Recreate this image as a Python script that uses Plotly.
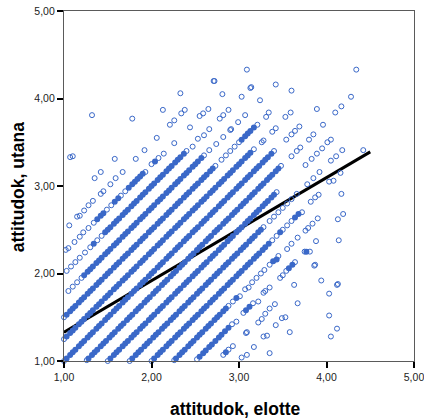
import plotly.graph_objects as go

band_p000_x = [1.00,1.03,1.07,1.10,1.13,1.17,1.20,1.23,1.27,1.30,1.33,1.37,1.40,1.43,1.47,1.50,1.53,1.57,1.60,1.63,1.67,1.70,1.73,1.77,1.80,1.83,1.87,1.90,1.93,1.97,2.00,2.03,2.07,2.10,2.13,2.17,2.20,2.23,2.27,2.30,2.33,2.37,2.40,2.43,2.47,2.50,2.53,2.57,2.60,2.63,2.67,2.70,2.73,2.77,2.80,2.83,2.87,2.90,2.93,2.97,3.00,3.03,3.07,3.10,3.13,3.17,3.20,3.23,3.27,3.30,3.33,3.37,3.40,3.54,3.60,3.64,3.69]
band_p000_y = [1.00,1.03,1.07,1.10,1.13,1.17,1.20,1.23,1.27,1.30,1.33,1.37,1.40,1.43,1.47,1.50,1.53,1.57,1.60,1.63,1.67,1.70,1.73,1.77,1.80,1.83,1.87,1.90,1.93,1.97,2.00,2.03,2.07,2.10,2.13,2.17,2.20,2.23,2.27,2.30,2.33,2.37,2.40,2.43,2.47,2.50,2.53,2.57,2.60,2.63,2.67,2.70,2.73,2.77,2.80,2.83,2.87,2.90,2.93,2.97,3.00,3.03,3.07,3.10,3.13,3.17,3.20,3.23,3.27,3.30,3.33,3.37,3.40,3.53,3.59,3.63,3.68]

band_p025_x = [1.00,1.03,1.07,1.10,1.13,1.17,1.20,1.23,1.27,1.30,1.33,1.37,1.40,1.43,1.47,1.50,1.53,1.57,1.60,1.63,1.67,1.70,1.73,1.77,1.80,1.83,1.87,1.90,1.93,1.97,2.00,2.03,2.07,2.10,2.13,2.17,2.20,2.23,2.27,2.30,2.33,2.37,2.40,2.43,2.47,2.50,2.53,2.57,2.60,2.63,2.67,2.70,2.73,2.77,2.80,2.83,2.87,2.90,2.93,2.97,3.00,3.03,3.07,3.10,3.13,3.17,3.26,3.28,3.38,3.42]
band_p025_y = [1.25,1.28,1.32,1.35,1.38,1.42,1.45,1.48,1.52,1.55,1.58,1.62,1.65,1.68,1.72,1.75,1.78,1.82,1.85,1.88,1.92,1.95,1.98,2.02,2.05,2.08,2.12,2.15,2.18,2.22,2.25,2.28,2.32,2.35,2.38,2.42,2.45,2.48,2.52,2.55,2.58,2.62,2.65,2.68,2.72,2.75,2.78,2.82,2.85,2.88,2.92,2.95,2.98,3.02,3.05,3.08,3.12,3.15,3.18,3.22,3.25,3.28,3.32,3.35,3.38,3.42,3.50,3.52,3.62,3.66]

band_p050_x = [1.00,1.03,1.07,1.10,1.13,1.17,1.20,1.23,1.27,1.30,1.33,1.37,1.40,1.43,1.47,1.50,1.53,1.57,1.60,1.63,1.67,1.70,1.73,1.77,1.80,1.83,1.87,1.90,1.93,1.97,2.00,2.03,2.07,2.10,2.13,2.17,2.20,2.23,2.27,2.30,2.33,2.37,2.40,2.43,2.47,2.50,2.53,2.57,2.60,2.63,2.67,2.70,2.73,2.80,2.85,2.90,2.95,3.00,3.03,3.07,3.10,3.13,3.17,3.21]
band_p050_y = [1.50,1.53,1.57,1.60,1.63,1.67,1.70,1.73,1.77,1.80,1.83,1.87,1.90,1.93,1.97,2.00,2.03,2.07,2.10,2.13,2.17,2.20,2.23,2.27,2.30,2.33,2.37,2.40,2.43,2.47,2.50,2.53,2.57,2.60,2.63,2.67,2.70,2.73,2.77,2.80,2.83,2.87,2.90,2.93,2.97,3.00,3.03,3.07,3.10,3.13,3.17,3.20,3.23,3.30,3.35,3.40,3.45,3.50,3.53,3.57,3.60,3.63,3.67,3.70]

band_p075_x = [1.05,1.10,1.15,1.20,1.23,1.27,1.30,1.33,1.37,1.40,1.43,1.47,1.50,1.53,1.57,1.60,1.63,1.67,1.70,1.73,1.77,1.80,1.83,1.87,1.90,1.93,1.97,2.00,2.03,2.07,2.10,2.13,2.17,2.20,2.23,2.27,2.30,2.33,2.37,2.40,2.43,2.47,2.50,2.53,2.57,2.60,2.66,2.74,2.82,2.90,2.91,2.99,3.07]
band_p075_y = [1.80,1.85,1.90,1.95,1.98,2.02,2.05,2.08,2.12,2.15,2.18,2.22,2.25,2.28,2.32,2.35,2.38,2.42,2.45,2.48,2.52,2.55,2.58,2.62,2.65,2.68,2.72,2.75,2.78,2.82,2.85,2.88,2.92,2.95,2.98,3.02,3.05,3.08,3.12,3.15,3.18,3.22,3.25,3.28,3.32,3.35,3.41,3.48,3.56,3.64,3.65,3.73,3.81]

band_p100_x = [1.03,1.08,1.13,1.18,1.24,1.30,1.34,1.38,1.43,1.47,1.50,1.53,1.57,1.60,1.63,1.67,1.70,1.73,1.77,1.80,1.83,1.87,1.90,1.93,1.97,2.00,2.03,2.07,2.10,2.13,2.17,2.20,2.23,2.27,2.30,2.33,2.37,2.40,2.47,2.53,2.60,2.66,2.78,2.82,2.88]
band_p100_y = [2.03,2.08,2.13,2.18,2.24,2.30,2.34,2.38,2.43,2.47,2.50,2.53,2.57,2.60,2.63,2.67,2.70,2.73,2.77,2.80,2.83,2.87,2.90,2.93,2.97,3.00,3.03,3.07,3.10,3.13,3.17,3.20,3.23,3.27,3.30,3.33,3.37,3.40,3.45,3.54,3.58,3.65,3.77,3.81,3.87]

band_p125_x = [1.02,1.05,1.12,1.18,1.22,1.28,1.34,1.38,1.42,1.45,1.49,1.54,1.58,1.62,1.65,1.70,1.74,1.78,1.81,1.84,1.87,1.90,1.93,2.00,2.04,2.08,2.14,2.26,2.44,2.55,2.59,2.65]
band_p125_y = [2.27,2.29,2.36,2.42,2.47,2.52,2.58,2.62,2.66,2.69,2.73,2.78,2.82,2.86,2.89,2.94,2.98,3.02,3.05,3.08,3.11,3.14,3.16,3.25,3.28,3.32,3.37,3.49,3.67,3.80,3.83,3.88]

band_p150_x = [1.06,1.15,1.18,1.23,1.28,1.33,1.42,1.45,1.53,1.59,1.67,1.82,1.92,2.06,2.21,2.26,2.34,2.38,2.71]
band_p150_y = [2.55,2.65,2.66,2.72,2.78,2.83,2.91,2.94,3.02,3.09,3.16,3.31,3.41,3.55,3.70,3.75,3.83,3.87,4.20]

top_left_x = [1.07,1.10,1.32,1.35,1.42,1.58,1.78,2.13,2.33]
top_left_y = [3.33,3.34,3.81,3.09,3.16,3.31,3.77,3.87,4.06]

top_right_x = [2.72,2.81,3.03,3.09,3.13,3.14,3.24,3.31,3.34,3.42,3.53,3.59,3.60,3.89,3.96,4.10,4.17,4.28,4.34]
top_right_y = [4.20,4.05,4.02,4.33,4.12,4.13,3.98,3.79,3.84,4.16,3.79,3.84,4.09,3.88,3.70,3.84,3.91,4.02,4.33]

band_m025_x = [1.26,1.28,1.32,1.35,1.38,1.42,1.45,1.48,1.52,1.55,1.58,1.62,1.65,1.68,1.72,1.75,1.78,1.82,1.85,1.88,1.92,1.95,1.98,2.02,2.05,2.08,2.12,2.15,2.18,2.22,2.25,2.28,2.32,2.35,2.38,2.42,2.45,2.48,2.52,2.55,2.58,2.62,2.65,2.68,2.72,2.75,2.78,2.82,2.85,2.88,2.92,2.95,2.98,3.02,3.05,3.08,3.12,3.15,3.18,3.22,3.25,3.28,3.32,3.35,3.38,3.42,3.45,3.48,3.60,3.66,3.70,3.80,3.85]
band_m025_y = [1.01,1.03,1.07,1.10,1.13,1.17,1.20,1.23,1.27,1.30,1.33,1.37,1.40,1.43,1.47,1.50,1.53,1.57,1.60,1.63,1.67,1.70,1.73,1.77,1.80,1.83,1.87,1.90,1.93,1.97,2.00,2.03,2.07,2.10,2.13,2.17,2.20,2.23,2.27,2.30,2.33,2.37,2.40,2.43,2.47,2.50,2.53,2.57,2.60,2.63,2.67,2.70,2.73,2.77,2.80,2.83,2.87,2.90,2.93,2.97,3.00,3.03,3.07,3.10,3.13,3.17,3.20,3.23,3.34,3.40,3.44,3.53,3.59]

band_m050_x = [1.50,1.53,1.57,1.60,1.63,1.67,1.70,1.73,1.77,1.80,1.83,1.87,1.90,1.93,1.97,2.00,2.03,2.07,2.10,2.13,2.17,2.20,2.23,2.27,2.30,2.33,2.37,2.40,2.43,2.47,2.50,2.53,2.57,2.60,2.63,2.67,2.70,2.73,2.77,2.80,2.83,2.87,2.90,2.93,2.97,3.00,3.03,3.07,3.10,3.13,3.17,3.20,3.23,3.27,3.30,3.33,3.37,3.40,3.43,3.76,3.83,3.89,3.95,4.01,4.05]
band_m050_y = [1.00,1.03,1.07,1.10,1.13,1.17,1.20,1.23,1.27,1.30,1.33,1.37,1.40,1.43,1.47,1.50,1.53,1.57,1.60,1.63,1.67,1.70,1.73,1.77,1.80,1.83,1.87,1.90,1.93,1.97,2.00,2.03,2.07,2.10,2.13,2.17,2.20,2.23,2.27,2.30,2.33,2.37,2.40,2.43,2.47,2.50,2.53,2.57,2.60,2.63,2.67,2.70,2.73,2.77,2.80,2.83,2.87,2.90,2.93,3.24,3.31,3.37,3.43,3.50,3.53]

band_m075_x = [1.75,1.78,1.82,1.85,1.88,1.92,1.95,1.98,2.02,2.05,2.08,2.12,2.15,2.18,2.22,2.25,2.28,2.32,2.35,2.38,2.42,2.45,2.48,2.52,2.55,2.58,2.62,2.65,2.68,2.72,2.75,2.78,2.82,2.85,2.88,2.92,2.95,2.98,3.02,3.05,3.08,3.12,3.15,3.18,3.22,3.25,3.28,3.35,3.40,3.45,3.50,3.55,3.60,3.66,3.78,3.85,3.92,4.05,4.11,4.18]
band_m075_y = [1.00,1.03,1.07,1.10,1.13,1.17,1.20,1.23,1.27,1.30,1.33,1.37,1.40,1.43,1.47,1.50,1.53,1.57,1.60,1.63,1.67,1.70,1.73,1.77,1.80,1.83,1.87,1.90,1.93,1.97,2.00,2.03,2.07,2.10,2.13,2.17,2.20,2.23,2.27,2.30,2.33,2.37,2.40,2.43,2.47,2.50,2.53,2.60,2.65,2.70,2.75,2.80,2.85,2.91,3.02,3.09,3.16,3.29,3.34,3.41]

band_m100_x = [2.00,2.03,2.07,2.10,2.13,2.17,2.20,2.23,2.27,2.30,2.33,2.37,2.40,2.43,2.47,2.50,2.53,2.57,2.60,2.63,2.67,2.70,2.73,2.77,2.80,2.83,2.87,2.90,2.93,2.97,3.00,3.03,3.07,3.10,3.13,3.17,3.20,3.23,3.27,3.30,3.34,3.38,3.43,3.47,3.50,3.55,3.60,3.64,3.68,3.72,3.82,3.87,3.91,4.03,4.08,4.16,4.42]
band_m100_y = [1.00,1.03,1.07,1.10,1.13,1.17,1.20,1.23,1.27,1.30,1.33,1.37,1.40,1.43,1.47,1.50,1.53,1.57,1.60,1.63,1.67,1.70,1.73,1.77,1.80,1.83,1.87,1.90,1.93,1.97,2.00,2.03,2.07,2.10,2.13,2.17,2.20,2.23,2.27,2.30,2.34,2.38,2.43,2.47,2.50,2.55,2.60,2.64,2.68,2.70,2.82,2.87,2.90,3.05,3.06,3.15,3.41]

band_m125_x = [2.26,2.28,2.32,2.35,2.38,2.42,2.45,2.48,2.52,2.55,2.58,2.62,2.65,2.68,2.72,2.75,2.78,2.82,2.85,2.88,2.93,2.97,3.01,3.07,3.11,3.15,3.20,3.25,3.29,3.35,3.39,3.43,3.45,3.55,3.60,3.67,3.76,3.79,3.84,3.90,4.17]
band_m125_y = [1.01,1.03,1.07,1.10,1.13,1.17,1.20,1.23,1.27,1.30,1.33,1.37,1.40,1.43,1.47,1.50,1.53,1.57,1.60,1.63,1.68,1.72,1.74,1.82,1.84,1.90,1.95,2.00,2.04,2.10,2.14,2.16,2.20,2.28,2.34,2.41,2.49,2.52,2.57,2.63,2.91]

band_m150_x = [2.52,2.55,2.59,2.62,2.66,2.69,2.73,2.77,2.80,2.84,2.88,2.92,2.97,3.05,3.08,3.12,3.16,3.22,3.28,3.30,3.35,3.47,3.50,3.54,3.57,3.61,3.64,3.75,3.77,3.81,3.88,4.13,4.19]
band_m150_y = [1.02,1.05,1.09,1.12,1.16,1.19,1.23,1.27,1.30,1.34,1.38,1.42,1.45,1.55,1.58,1.62,1.66,1.68,1.78,1.80,1.84,1.95,1.98,2.03,2.06,2.10,2.13,2.25,2.25,2.25,2.37,2.62,2.68]

band_m175_x = [2.82,2.85,2.88,2.93,3.08,3.09,3.22,3.26,3.30,3.35,3.41,3.63,3.86,3.87,4.14]
band_m175_y = [1.07,1.10,1.13,1.17,1.32,1.33,1.44,1.48,1.54,1.60,1.65,1.87,2.09,2.10,2.38]

bottom_right_x = [3.03,3.09,3.17,3.28,3.32,3.35,3.42,3.49,3.53,3.58,3.67,3.94,4.03,4.03,4.05,4.12,4.12,4.13]
bottom_right_y = [1.04,1.07,1.16,1.28,1.29,1.09,1.41,1.49,1.50,1.33,1.66,1.92,1.77,1.52,1.28,1.37,1.87,1.88]

fit_x = [1.00, 4.50]
fit_y = [1.33, 3.39]

x_ticks = [1, 2, 3, 4, 5]
x_labels = ["1,00", "2,00", "3,00", "4,00", "5,00"]
y_ticks = [1, 2, 3, 4, 5]
y_labels = ["1,00", "2,00", "3,00", "4,00", "5,00"]
x_title = "attitudok, elotte"
y_title = "attitudok, utana"

all_x = (band_p150_x + band_p125_x + band_p100_x + band_p075_x + band_p050_x + band_p025_x + band_p000_x
         + band_m025_x + band_m050_x + band_m075_x + band_m100_x + band_m125_x + band_m150_x + band_m175_x
         + top_left_x + top_right_x + bottom_right_x)
all_y = (band_p150_y + band_p125_y + band_p100_y + band_p075_y + band_p050_y + band_p025_y + band_p000_y
         + band_m025_y + band_m050_y + band_m075_y + band_m100_y + band_m125_y + band_m150_y + band_m175_y
         + top_left_y + top_right_y + bottom_right_y)

# Overlapping rings read as solid stripes in the reference: heavier stroke where points crowd together.
widths = []
sizes = []
for i, (px, py) in enumerate(zip(all_x, all_y)):
    close = sum(1 for j, (qx, qy) in enumerate(zip(all_x, all_y))
                if j != i and abs(px - qx) < 0.045 and abs(py - qy) < 0.045)
    dense = close >= 2
    widths.append(3.0 if dense else 1.0)
    sizes.append(3.0 if dense else 5)

fig = go.Figure()
fig.add_trace(go.Scatter(x=fit_x, y=fit_y, mode="lines", line=dict(color="#000000", width=3)))
fig.add_trace(go.Scatter(x=all_x, y=all_y, mode="markers", cliponaxis=False,
                         marker=dict(symbol="circle-open", size=sizes, opacity=1, color="#3a68c8",
                                     line=dict(width=widths, color="#3a68c8"))))

axis_common = dict(range=[1, 5], showgrid=False, zeroline=False, ticks="outside", ticklen=6, tickwidth=2,
                   tickcolor="#000000", showline=True, linewidth=1.2, linecolor="#5a5a5a", mirror=True,
                   automargin=False, ticklabeloverflow="allow",
                   tickfont=dict(family="Liberation Sans", size=10.5, color="#222222"))

fig.update_xaxes(tickvals=x_ticks, ticktext=x_labels, **axis_common)
fig.update_yaxes(tickvals=y_ticks, ticktext=y_labels, **axis_common)
title_font = dict(family="Liberation Sans", size=17.5, color="#000000")
fig.add_annotation(text=f"<b>{x_title}</b>", xref="paper", yref="paper", x=0.491, y=-0.136,
                   showarrow=False, font=title_font, xanchor="center", yanchor="middle")
fig.add_annotation(text=f"<b>{y_title}</b>", xref="paper", yref="paper", x=-0.129, y=0.4986,
                   showarrow=False, font=title_font, textangle=-90, xanchor="center", yanchor="middle")
fig.update_layout(width=424, height=419, autosize=False, showlegend=False, hovermode=False,
                  paper_bgcolor="#ffffff", plot_bgcolor="#ffffff",
                  margin=dict(l=64, r=10, t=11, b=57.5, pad=0))
fig.write_html("out.html", config={"displayModeBar": False},
               post_script="document.body.style.margin='0';document.body.style.overflow='hidden';")
